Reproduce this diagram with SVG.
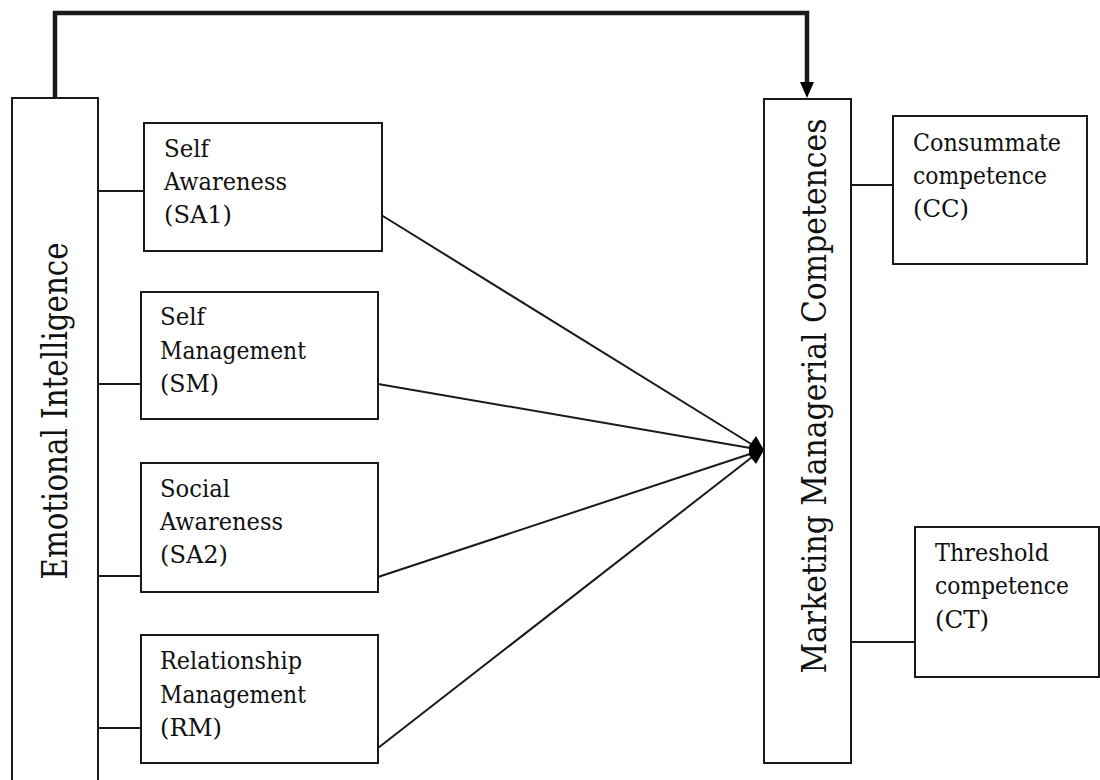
<svg xmlns="http://www.w3.org/2000/svg" width="1100" height="780" viewBox="0 0 1100 780">
<style>
.box{fill:#fff;stroke:#1a1a1a;stroke-width:2}
.ln{stroke:#1a1a1a;stroke-width:2;fill:none}
text{font-family:'DejaVu Serif','Liberation Serif',serif;fill:#111}
.t{font-size:25px}
</style>
<rect width="1100" height="780" fill="#fff"/>
<g id="connectors">
<path class="ln" d="M55,98 V13 H807 V84" style="stroke-width:4.5"/>
<polygon points="800,82 814,82 807,98" fill="#000"/>
<line class="ln" x1="98" y1="191" x2="144" y2="191"/>
<line class="ln" x1="98" y1="384" x2="141" y2="384"/>
<line class="ln" x1="98" y1="576" x2="141" y2="576"/>
<line class="ln" x1="98" y1="728" x2="141" y2="728"/>
<line class="ln" x1="378" y1="213" x2="756" y2="447"/>
<line class="ln" x1="378" y1="384" x2="756" y2="449"/>
<line class="ln" x1="378" y1="577" x2="756" y2="452"/>
<line class="ln" x1="378" y1="748" x2="756" y2="454"/>
<polygon points="764,450 756,436 749,446 749,455 756,464" fill="#000"/>
<line class="ln" x1="851" y1="185" x2="893" y2="185"/>
<line class="ln" x1="851" y1="642" x2="915" y2="642"/>
</g>
<g id="ei">
<path class="box" d="M12,782 V98 H98 V782"/>
<text transform="translate(67,411) rotate(-90)" text-anchor="middle" font-size="36" textLength="337" lengthAdjust="spacingAndGlyphs">Emotional Intelligence</text>
</g>
<g id="sa1">
<rect class="box" x="144" y="123" width="238" height="128"/>
<text class="t" x="164" y="157" textLength="45" lengthAdjust="spacingAndGlyphs">Self</text>
<text class="t" x="164" y="190" textLength="123" lengthAdjust="spacingAndGlyphs">Awareness</text>
<text class="t" x="164" y="223" textLength="68" lengthAdjust="spacingAndGlyphs">(SA1)</text>
</g>
<g id="sm">
<rect class="box" x="141" y="292" width="237" height="127"/>
<text class="t" x="160" y="325" textLength="45" lengthAdjust="spacingAndGlyphs">Self</text>
<text class="t" x="160" y="359" textLength="146" lengthAdjust="spacingAndGlyphs">Management</text>
<text class="t" x="160" y="392" textLength="59" lengthAdjust="spacingAndGlyphs">(SM)</text>
</g>
<g id="sa2">
<rect class="box" x="141" y="463" width="237" height="129"/>
<text class="t" x="160" y="497" textLength="70" lengthAdjust="spacingAndGlyphs">Social</text>
<text class="t" x="160" y="530" textLength="123" lengthAdjust="spacingAndGlyphs">Awareness</text>
<text class="t" x="160" y="563" textLength="68" lengthAdjust="spacingAndGlyphs">(SA2)</text>
</g>
<g id="rm">
<rect class="box" x="141" y="635" width="237" height="128"/>
<text class="t" x="160" y="669" textLength="142" lengthAdjust="spacingAndGlyphs">Relationship</text>
<text class="t" x="160" y="703" textLength="146" lengthAdjust="spacingAndGlyphs">Management</text>
<text class="t" x="160" y="736" textLength="62" lengthAdjust="spacingAndGlyphs">(RM)</text>
</g>
<g id="mmc">
<rect class="box" x="764" y="99" width="87" height="664"/>
<text transform="translate(826,396) rotate(-90)" text-anchor="middle" font-size="34" textLength="555" lengthAdjust="spacingAndGlyphs">Marketing Managerial Competences</text>
</g>
<g id="cc">
<rect class="box" x="893" y="116" width="194" height="148"/>
<text class="t" x="913" y="151" textLength="148" lengthAdjust="spacingAndGlyphs">Consummate</text>
<text class="t" x="913" y="184" textLength="134" lengthAdjust="spacingAndGlyphs">competence</text>
<text class="t" x="913" y="217" textLength="56" lengthAdjust="spacingAndGlyphs">(CC)</text>
</g>
<g id="ct">
<rect class="box" x="915" y="527" width="184" height="150"/>
<text class="t" x="935" y="561" textLength="114" lengthAdjust="spacingAndGlyphs">Threshold</text>
<text class="t" x="935" y="594" textLength="134" lengthAdjust="spacingAndGlyphs">competence</text>
<text class="t" x="935" y="628" textLength="54" lengthAdjust="spacingAndGlyphs">(CT)</text>
</g>
</svg>
